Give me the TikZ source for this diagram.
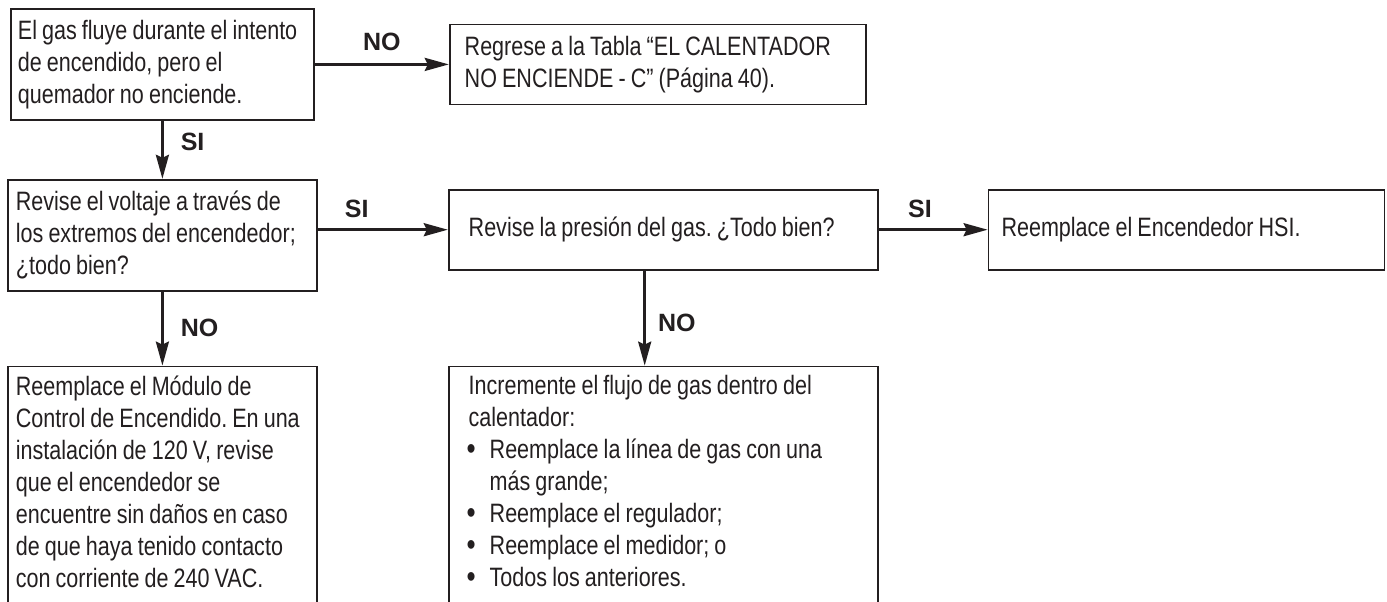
\documentclass[tikz,border=0pt]{standalone}
\usepackage{fontspec}
\setmainfont[FakeStretch=0.81, WordSpace=0.85]{Liberation Sans}
\newfontfamily\lblfont{Liberation Sans}
\usepackage{xcolor}
\usepackage{tikz}
\usetikzlibrary{arrows.meta, positioning}
\definecolor{inkblack}{RGB}{35, 31, 32}
\frenchspacing
\newcommand{\flowtext}{\fontsize{13.3pt}{16pt}\selectfont}
\newcommand{\flowbullet}{\makebox[10.5pt][l]{\hspace{-1pt}\raisebox{-0.3pt}{\fontsize{16pt}{0pt}\selectfont•}}}
\tikzset{
    box/.style = {rectangle, draw=inkblack, line width=0.9pt, fill=white, text=inkblack, align=flush left, inner xsep=4pt, inner ysep=0pt, font=\flowtext},
    cutbox/.style = {box, inner xsep=4pt, inner ysep=4.5pt},
    arrow/.style = {line width=1.4pt, draw=inkblack, -{Stealth[length=12pt, width=6.5pt, inset=1.5pt]}},
    lbl/.style = {font=\lblfont\bfseries\fontsize{12.5pt}{14pt}\selectfont, text=inkblack, inner sep=0pt}
}

\begin{document}
\begin{tikzpicture}
\useasboundingbox[fill=white] (-5pt,4pt) rectangle (688.5pt,-296.5pt);
% Nodes
\node (gasflow) [box, anchor=north west, inner xsep=3.5pt, text width=144.5pt, minimum height=55.5pt] at (0,0) {El gas fluye durante el intento\\de encendido, pero el\\quemador no enciende.};
\node (regrese) [box, right=67pt of gasflow, inner xsep=7.5pt, text width=193pt, minimum height=40pt] {Regrese a la Tabla “EL CALENTADOR\\NO ENCIENDE - C” (Página 40).};

\node (voltaje) [box, below=29pt of gasflow, text width=146.5pt, minimum height=55.5pt] {Revise el voltaje a través de\\los extremos del encendedor;\\¿todo bien?};
\node (presion) [box, right=65pt of voltaje, yshift=2.75pt, inner xsep=10pt, text width=194.5pt, minimum height=40pt] {Revise la presión del gas. ¿Todo bien?};
\node (hsi) [box, right=54.5pt of presion, inner xsep=6.5pt, text width=185pt, minimum height=40pt] {Reemplace el Encendedor HSI.};

\node (modulo) [cutbox, below=37pt of voltaje] {\parbox[c][116pt][t]{146.5pt}{\raggedright\hyphenpenalty=10000
    Reemplace el Módulo de\\Control de Encendido. En una\\instalación de 120 V, revise\\que el encendedor se\\encuentre sin daños en caso\\de que haya tenido contacto\\con corriente de 240 VAC.}};
\node (incremente) [cutbox, below=47.5pt of presion, inner xsep=10pt] {\parbox[c][116pt][t]{194.5pt}{\raggedright\hyphenpenalty=10000
    Incremente el flujo de gas dentro del\\calentador:\\
    \flowbullet Reemplace la línea de gas con una\\\hspace*{10.5pt}más grande;\\
    \flowbullet Reemplace el regulador;\\
    \flowbullet Reemplace el medidor; o\\
    \flowbullet Todos los anteriores.}};

% Arrows
\draw [arrow] (gasflow) -- node[lbl, above=6pt] {NO} (regrese);
\draw [arrow] (gasflow.south) -- node[lbl, right=8.5pt, pos=0.36] {SI} (gasflow.south |- voltaje.north);
\draw [arrow] (voltaje.east |- presion) -- node[lbl, above=5.5pt, pos=0.3] {SI} (presion);
\draw [arrow] (presion) -- node[lbl, above=5.5pt, pos=0.38] {SI} (hsi);
\draw [arrow] (voltaje.south) -- node[lbl, right=8.5pt, pos=0.49] {NO} (voltaje.south |- modulo.north);
\draw [arrow] ([xshift=-9.25pt]presion.south) -- node[lbl, right=6pt, pos=0.55] {NO} ([xshift=-9.25pt]presion.south |- incremente.north);

\end{tikzpicture}
\end{document}
